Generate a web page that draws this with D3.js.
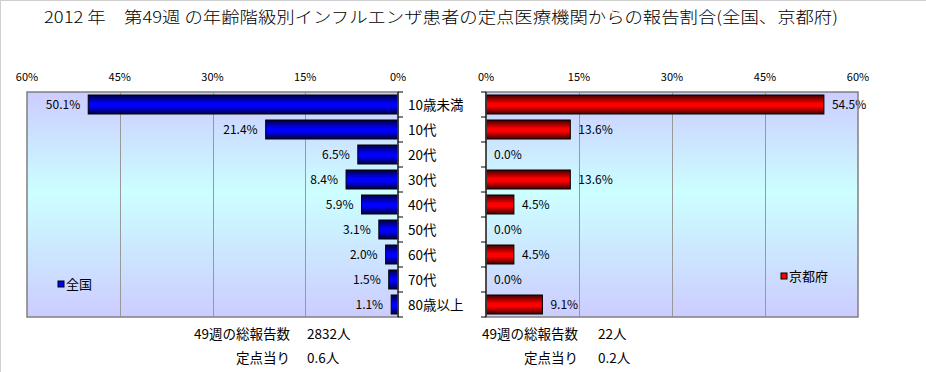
<!DOCTYPE html>
<html>
<head>
<meta charset="utf-8">
<script src="https://cdn.jsdelivr.net/npm/d3@7"></script>
<style>
  body { margin: 0; background: #fff; }
  text { font-family: "Noto Sans CJK JP", "Noto Sans", sans-serif; fill: #000; }
</style>
</head>
<body>
<div id="wrapper"></div>
<script>
var categories = ["10歳未満", "10代", "20代", "30代", "40代", "50代", "60代", "70代", "80歳以上"]
var national = [50.1, 21.4, 6.5, 8.4, 5.9, 3.1, 2.0, 1.5, 1.1]
var kyoto = [54.5, 13.6, 0.0, 13.6, 4.5, 0.0, 4.5, 0.0, 9.1]
var tickValues = [0, 15, 30, 45, 60]
var title = "2012 年\u3000第49週 の年齢階級別インフルエンザ患者の定点医療機関からの報告割合(全国、京都府)"
var nationalNotes = [["49週の総報告数", "2832人"], ["定点当り", "0.6人"]]
var kyotoNotes = [["49週の総報告数", "22人"], ["定点当り", "0.2人"]]

function draw(){
    const parent = d3.select("#wrapper")
    parent.selectAll('*').remove()

    var width = 926;
    var height = 372;
    var top = 92, bottom = 317;

    var svg = parent.append("svg")
        .attr("width", width)
        .attr("height", height)

    // outer frame (top/left only visible in reference)
    svg.append("line").attr("x1", 0).attr("x2", width).attr("y1", 0.5).attr("y2", 0.5)
        .attr("stroke", "#d0d0d0")
    svg.append("line").attr("x1", 0.5).attr("x2", 0.5).attr("y1", 0).attr("y2", height)
        .attr("stroke", "#d0d0d0")

    var defs = svg.append("defs")
    var bg = defs.append("linearGradient").attr("id", "bg")
        .attr("x1", 0).attr("y1", 0).attr("x2", 0).attr("y2", 1)
    bg.append("stop").attr("offset", 0).attr("stop-color", "#ccccff")
    bg.append("stop").attr("offset", 0.45).attr("stop-color", "#ccffff")
    bg.append("stop").attr("offset", 1).attr("stop-color", "#ccccff")

    function barGrad(id, dark, bright){
        var g = defs.append("linearGradient").attr("id", id)
            .attr("x1", 0).attr("y1", 0).attr("x2", 0).attr("y2", 1)
        g.append("stop").attr("offset", 0).attr("stop-color", dark)
        g.append("stop").attr("offset", 0.45).attr("stop-color", bright)
        g.append("stop").attr("offset", 0.6).attr("stop-color", bright)
        g.append("stop").attr("offset", 1).attr("stop-color", dark)
    }
    barGrad("blueBar", "#000040", "#0000ff")
    barGrad("redBar", "#400000", "#ff0000")

    svg.append("text")
        .attr("x", 44)
        .attr("y", 23)
        .attr("textLength", 794)
        .attr("lengthAdjust", "spacingAndGlyphs")
        .style("font-size", "16px")
        .style("font-weight", 300)
        .text(title)

    var yScaler = d3.scaleBand()
        .domain(categories)
        .range([top, bottom])
        .paddingInner(0.24)
        .paddingOuter(0.12)

    function panel(values, x0, x1, gradId, side, legendName, legendPos, legendColor){
        var xScaler = d3.scaleLinear().domain([0, 60]).range([x0, x1])
        var left = Math.min(x0, x1), right = Math.max(x0, x1)
        var g = svg.append("g")

        g.append("rect")
            .attr("x", left).attr("y", top)
            .attr("width", right - left).attr("height", bottom - top)
            .attr("fill", "url(#bg)")

        g.selectAll(".grid")
            .data(tickValues.filter(d => d > 0 && d < 60))
            .enter().append("line")
            .attr("x1", d => Math.round(xScaler(d)) + 0.5)
            .attr("x2", d => Math.round(xScaler(d)) + 0.5)
            .attr("y1", top).attr("y2", bottom)
            .attr("stroke", "#999")

        g.selectAll(".tick")
            .data(tickValues)
            .enter().append("text")
            .attr("x", d => xScaler(d))
            .attr("y", 81)
            .attr("text-anchor", "middle")
            .style("font-size", "11px")
            .text(d => d + "%")

        g.selectAll(".bar")
            .data(values)
            .enter().append("rect")
            .attr("x", d => Math.min(xScaler(0), xScaler(d)))
            .attr("y", (d, i) => yScaler(categories[i]))
            .attr("width", d => Math.abs(xScaler(d) - xScaler(0)))
            .attr("height", yScaler.bandwidth())
            .attr("fill", "url(#" + gradId + ")")
            .attr("stroke", "#000")
            .attr("stroke-width", d => d > 0 ? 1 : 0)

        g.selectAll(".val")
            .data(values)
            .enter().append("text")
            .attr("x", d => xScaler(d) + side * 8)
            .attr("y", (d, i) => yScaler(categories[i]) + yScaler.bandwidth() / 2 + 4)
            .attr("text-anchor", side < 0 ? "end" : "start")
            .style("font-size", "12px")
            .text(d => d.toFixed(1) + "%")

        g.append("rect")
            .attr("x", left).attr("y", top)
            .attr("width", right - left).attr("height", bottom - top)
            .attr("fill", "none")
            .attr("stroke", "#808080")
            .attr("stroke-width", 1.5)

        // category ticks on the zero axis
        var bounds = d3.range(categories.length + 1).map(i => top + i * yScaler.step())
        g.selectAll(".ctick")
            .data(bounds)
            .enter().append("line")
            .attr("x1", xScaler(0)).attr("x2", xScaler(0) - side * 5)
            .attr("y1", d => d).attr("y2", d => d)
            .attr("stroke", "#000")
        g.append("line")
            .attr("x1", xScaler(0)).attr("x2", xScaler(0))
            .attr("y1", top).attr("y2", bottom)
            .attr("stroke", "#000")

        g.append("rect")
            .attr("x", legendPos[0]).attr("y", legendPos[1] - 3)
            .attr("width", 6).attr("height", 6)
            .attr("fill", legendColor).attr("stroke", "#000")
        g.append("text")
            .attr("x", legendPos[0] + 8).attr("y", legendPos[1] + 5)
            .style("font-size", "13px")
            .text(legendName)
    }

    panel(national, 398, 27, "blueBar", -1, "全国", [58, 284], "#0000ff")
    panel(kyoto, 486, 858, "redBar", 1, "京都府", [781, 276], "#ff0000")

    svg.selectAll(".cat")
        .data(categories)
        .enter().append("text")
        .attr("x", 408)
        .attr("y", d => yScaler(d) + yScaler.bandwidth() / 2 + 5)
        .style("font-size", "13.5px")
        .text(d => d)

    function notes(rows, labelRight, valueLeft){
        rows.forEach(function(r, i){
            svg.append("text")
                .attr("x", labelRight).attr("y", 339 + i * 24)
                .attr("text-anchor", "end")
                .style("font-size", "13.5px")
                .text(r[0])
            svg.append("text")
                .attr("x", valueLeft).attr("y", 339 + i * 24)
                .style("font-size", "13.5px")
                .text(r[1])
        })
    }
    notes(nationalNotes, 290, 307)
    notes(kyotoNotes, 578, 598)
}
draw()
</script>
</body>
</html>
